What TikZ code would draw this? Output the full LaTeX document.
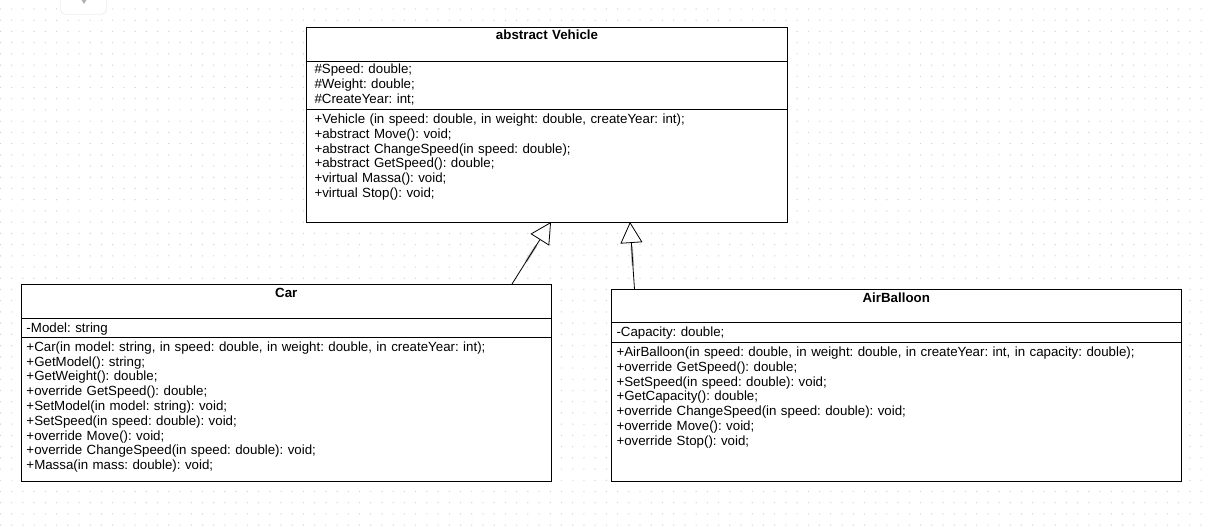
\documentclass[tikz,border=0pt]{standalone}
\usepackage{fontspec}
\setmainfont{Liberation Sans}
\usepackage{tikz}
\usetikzlibrary{positioning,arrows.meta}

\definecolor{griddot}{HTML}{D2D2D2}
\definecolor{uiborder}{HTML}{E0E0E0}
\newcommand{\umlfont}{\fontsize{13.3}{14.8}\selectfont\frenchspacing}

\tikzset{
  classpart/.style={rectangle, draw, line width=0.9pt, fill=white,
                    inner xsep=5pt, inner ysep=0pt, outer sep=0pt,
                    align=left, font=\umlfont},
  classname/.style={classpart, align=center, font=\umlfont\bfseries,
                    text height=13pt},
  inherit/.style={line width=0.8pt,
                  -{Triangle[length=21pt,width=22pt,fill=white,line width=0.8pt]}},
  smear/.style={line width=2.4pt, gray, opacity=0.55, line cap=round},
}

\begin{document}
\begin{tikzpicture}[x=1pt,y=-1pt]
\useasboundingbox (0,0) rectangle (1211,527);

% dotted grid of the canvas
\foreach \i in {0,...,107}
  \foreach \j in {0,...,46}
    \fill[griddot] (0.5+11.22*\i, 9+11.22*\j) circle (0.7pt);

% toolbar tab at the top
\draw[uiborder, fill=white, rounded corners=5pt] (60.5,-8) rectangle (106.5,14.5);
\fill[gray!60] (81.5,0) -- (86.5,0) -- (84,4) -- cycle;

% abstract Vehicle
\node[classname, anchor=north west,
      text width=471pt,
      text depth=21.5pt] (vtitle) at (306.5,27) {abstract Vehicle};

\node[classpart, below=0pt of vtitle,
      inner xsep=8pt,
      text width=465pt,
      text height=12.5pt,
      text depth=35.5pt] (vattr) {\#Speed: double;\\
                                 \#Weight: double;\\
                                 \#CreateYear: int;};

\node[classpart, below=0pt of vattr,
      inner xsep=8pt,
      text width=465pt,
      text height=14pt,
      text depth=98.5pt] (vops) {+Vehicle (in speed: double, in weight: double, createYear: int);\\
                                 +abstract Move(): void;\\
                                 +abstract ChangeSpeed(in speed: double);\\
                                 +abstract GetSpeed(): double;\\
                                 +virtual Massa(): void;\\
                                 +virtual Stop(): void;};

% Car
\node[classname, anchor=north west,
      text width=519.5pt,
      text depth=21pt] (ctitle) at (21.5,284) {Car};

\node[classpart, below=0pt of ctitle,
      text width=519.5pt,
      text height=14pt,
      text depth=5.3pt] (cattr) {-Model: string};

\node[classpart, below=0pt of cattr,
      text width=519.5pt,
      text height=14pt,
      text depth=130pt] (cops) {+Car(in model: string, in speed: double, in weight: double, in createYear: int);\\
                                +GetModel(): string;\\
                                +GetWeight(): double;\\
                                +override GetSpeed(): double;\\
                                +SetModel(in model: string): void;\\
                                +SetSpeed(in speed: double): void;\\
                                +override Move(): void;\\
                                +override ChangeSpeed(in speed: double): void;\\
                                +Massa(in mass: double): void;};

% AirBalloon
\node[classname, anchor=north west,
      text width=559.5pt,
      text depth=20.5pt] (atitle) at (611.5,289.3) {AirBalloon};

\node[classpart, below=0pt of atitle,
      text width=559.5pt,
      text height=14pt,
      text depth=5.2pt] (aattr) {-Capacity: double;};

\node[classpart, below=0pt of aattr,
      text width=559.5pt,
      text height=14.5pt,
      text depth=124.8pt] (aops) {+AirBalloon(in speed: double, in weight: double, in createYear: int, in capacity: double);\\
                                  +override GetSpeed(): double;\\
                                  +SetSpeed(in speed: double): void;\\
                                  +GetCapacity(): double;\\
                                  +override ChangeSpeed(in speed: double): void;\\
                                  +override Move(): void;\\
                                  +override Stop(): void;};

% inheritance
\coordinate (cfoot) at ([xshift=-39pt]ctitle.north east);
\coordinate (afoot) at ([xshift=23pt]atitle.north west);
\coordinate (ctip) at ([xshift=244.5pt]vops.south west);
\coordinate (atip) at ([xshift=323.5pt]vops.south west);

\draw[smear, shorten <=27pt, shorten >=28pt] (cfoot) -- (ctip);
\draw[smear, shorten <=24pt, shorten >=25pt] (afoot) -- (atip);
\draw[inherit] (cfoot) -- (ctip);
\draw[inherit] (afoot) -- (atip);
\end{tikzpicture}
\end{document}
